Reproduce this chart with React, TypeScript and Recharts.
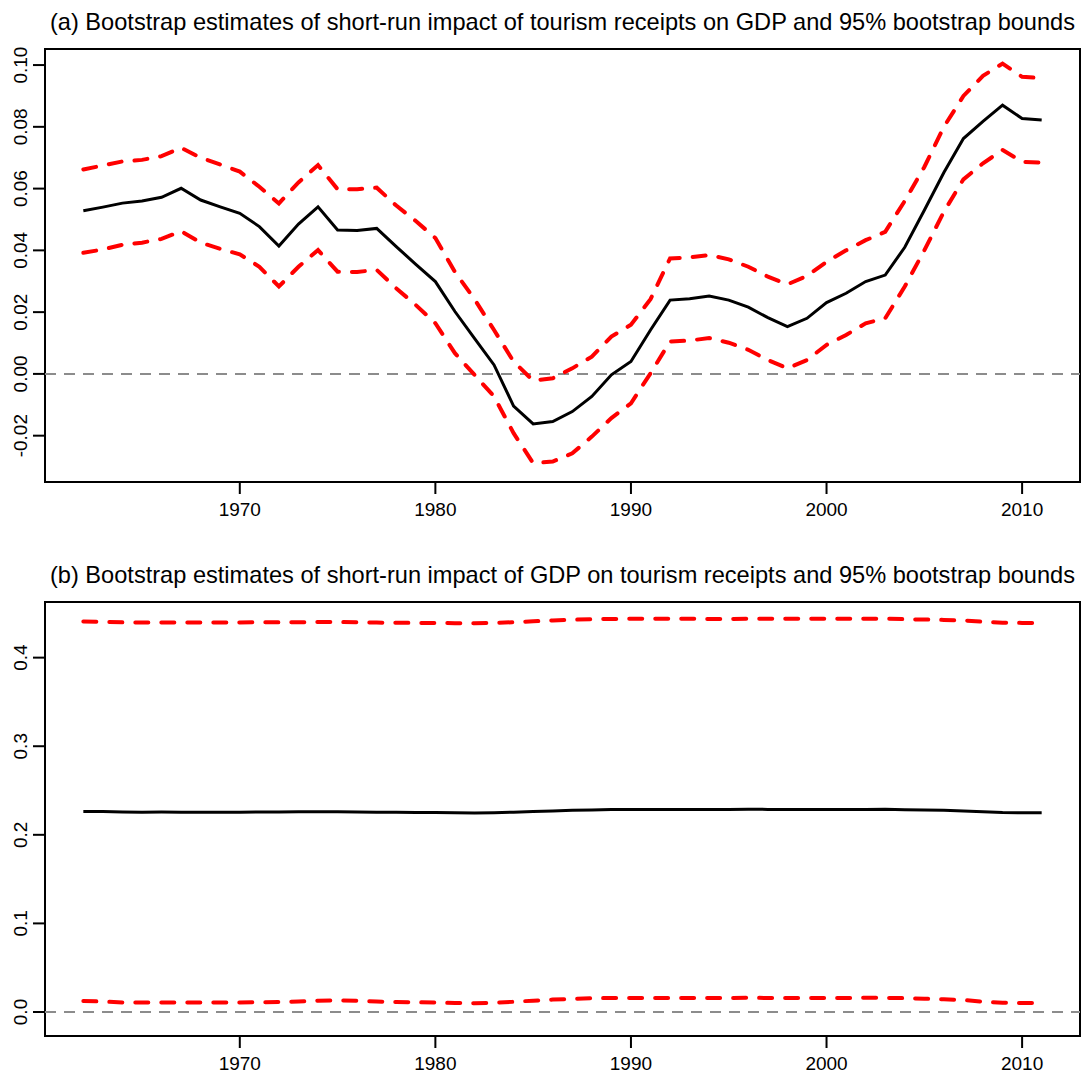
import { LineChart, Line, XAxis, YAxis, ReferenceLine, ReferenceArea } from "recharts";

const years = [
  1962, 1963, 1964, 1965, 1966, 1967, 1968, 1969, 1970, 1971,
  1972, 1973, 1974, 1975, 1976, 1977, 1978, 1979, 1980, 1981,
  1982, 1983, 1984, 1985, 1986, 1987, 1988, 1989, 1990, 1991,
  1992, 1993, 1994, 1995, 1996, 1997, 1998, 1999, 2000, 2001,
  2002, 2003, 2004, 2005, 2006, 2007, 2008, 2009, 2010, 2011,
];

// (a) tourism receipts -> GDP
const aEstimate = [
  0.0528, 0.054, 0.0553, 0.056, 0.0572, 0.0601, 0.0563, 0.0541, 0.052, 0.0477,
  0.0414, 0.0485, 0.0541, 0.0466, 0.0464, 0.0471, 0.0412, 0.0355, 0.0299, 0.0202,
  0.0115, 0.0029, -0.0104, -0.0162, -0.0154, -0.0122, -0.0073, -0.0003, 0.004, 0.0142,
  0.0239, 0.0243, 0.0252, 0.0239, 0.0216, 0.0182, 0.0153, 0.018, 0.0231, 0.0261,
  0.0299, 0.032, 0.041, 0.053, 0.0652, 0.0762, 0.0818, 0.087, 0.0827, 0.0822,
];
const aUpper = [
  0.0662, 0.0675, 0.0688, 0.0693, 0.0705, 0.0732, 0.07, 0.0678, 0.0655, 0.0606,
  0.0552, 0.062, 0.0676, 0.0598, 0.0598, 0.0603, 0.0545, 0.0495, 0.044, 0.033,
  0.0242, 0.0142, 0.004, -0.0022, -0.0014, 0.0018, 0.0056, 0.0121, 0.0159, 0.0242,
  0.0374, 0.0377, 0.0385, 0.0371, 0.0347, 0.0315, 0.029, 0.0317, 0.0363, 0.04,
  0.0433, 0.046, 0.056, 0.067, 0.08, 0.09, 0.0965, 0.1005, 0.0962, 0.0958,
];
const aLower = [
  0.0392, 0.0403, 0.0418, 0.0425, 0.0437, 0.0462, 0.0425, 0.0405, 0.0387, 0.0347,
  0.0283, 0.0347, 0.0401, 0.0331, 0.033, 0.0337, 0.0277, 0.0223, 0.0164, 0.0067,
  -0.0003, -0.0073, -0.0192, -0.0289, -0.0284, -0.0257, -0.0203, -0.0143, -0.0095, 0.0002,
  0.0105, 0.0108, 0.0116, 0.0101, 0.0078, 0.0045, 0.0018, 0.0045, 0.0094, 0.0126,
  0.0164, 0.018, 0.0283, 0.04, 0.0525, 0.063, 0.0682, 0.0725, 0.0687, 0.0684,
];

// (b) GDP -> tourism receipts
const bEstimate = [
  0.2262, 0.2262, 0.2258, 0.2255, 0.2257, 0.2256, 0.2255, 0.2255, 0.2256, 0.2258,
  0.2257, 0.2259, 0.2261, 0.2261, 0.2258, 0.2255, 0.2254, 0.2253, 0.2251, 0.2248,
  0.2247, 0.225, 0.2255, 0.2262, 0.227, 0.2276, 0.2281, 0.2286, 0.2287, 0.2287,
  0.2287, 0.2287, 0.2286, 0.2285, 0.2288, 0.2287, 0.2286, 0.2286, 0.2286, 0.2286,
  0.2287, 0.2288, 0.2284, 0.228, 0.2276, 0.227, 0.226, 0.2252, 0.2249, 0.2248,
];
const bUpper = [
  0.4408, 0.4405, 0.4398, 0.4396, 0.4397, 0.4397, 0.4396, 0.4397, 0.4398, 0.4399,
  0.4398, 0.44, 0.4402, 0.4402, 0.4399, 0.4396, 0.4393, 0.4392, 0.4391, 0.4389,
  0.4388, 0.4392, 0.44, 0.441, 0.442, 0.4428, 0.4433, 0.4437, 0.4438, 0.4438,
  0.4438, 0.4438, 0.4437, 0.4437, 0.4439, 0.4439, 0.4438, 0.4438, 0.4438, 0.4438,
  0.4439, 0.444, 0.4434, 0.443, 0.4426, 0.442, 0.4405, 0.4395, 0.4392, 0.439,
];
const bLower = [
  0.0124, 0.0118, 0.0108, 0.0106, 0.0107, 0.0107, 0.0107, 0.0107, 0.0108, 0.011,
  0.0112, 0.0118, 0.0128, 0.013, 0.0126, 0.0118, 0.0113, 0.011, 0.0106, 0.0101,
  0.01, 0.0104, 0.0115, 0.0128, 0.014, 0.0148, 0.0155, 0.0158, 0.0159, 0.0159,
  0.0159, 0.0159, 0.0158, 0.0158, 0.016, 0.0159, 0.0159, 0.0159, 0.0159, 0.0159,
  0.016, 0.016, 0.0156, 0.015, 0.0143, 0.0135, 0.0115, 0.0105, 0.0101, 0.01,
];

const xTicks = [1970, 1980, 1990, 2000, 2010];
const aTicks = [-0.02, 0, 0.02, 0.04, 0.06, 0.08, 0.1];
const bTicks = [0, 0.1, 0.2, 0.3, 0.4];

const titleA =
  "(a) Bootstrap estimates of short-run impact of tourism receipts on GDP and 95% bootstrap bounds";
const titleB =
  "(b) Bootstrap estimates of short-run impact of GDP on tourism receipts and 95% bootstrap bounds";

const FONT = '"Liberation Sans", Arial, Helvetica, sans-serif';
const X_DOMAIN: [number, number] = [1960.04, 2012.96];

const buildRows = (mid: number[], up: number[], lo: number[]) =>
  years.map((year, i) => ({ year, mid: mid[i], upper: up[i], lower: lo[i] }));

const rowsA = buildRows(aEstimate, aUpper, aLower);
const rowsB = buildRows(bEstimate, bUpper, bLower);

const RotatedTick = ({ x, y, payload, digits }: any) => (
  <text
    x={x}
    y={y}
    transform={`rotate(-90 ${x} ${y})`}
    textAnchor="middle"
    fontSize={19}
    fontFamily={FONT}
    fill="#000"
  >
    {Number(payload.value).toFixed(digits)}
  </text>
);

type PanelProps = {
  rows: any[];
  title: string;
  top: number;
  height: number;
  marginTop: number;
  xAxisHeight: number;
  yDomain: [number, number];
  yTicks: number[];
  digits: number;
  titleTop: number;
};

const Panel = ({ rows, title, top, height, marginTop, xAxisHeight, yDomain, yTicks, digits, titleTop }: PanelProps) => (
  <div style={{ position: "absolute", left: 0, top, width: 1081, height }}>
    <div
      style={{
        position: "absolute",
        left: 45,
        width: 1035,
        top: titleTop,
        textAlign: "center",
        fontFamily: FONT,
        fontSize: 23.6,
        lineHeight: "24px",
        color: "#000",
        whiteSpace: "nowrap",
      }}
    >
      {title}
    </div>
    <LineChart
      width={1081}
      height={height}
      data={rows}
      margin={{ top: marginTop, right: 1, bottom: 0, left: 0 }}
    >
      <XAxis
        dataKey="year"
        type="number"
        domain={X_DOMAIN}
        ticks={xTicks}
        allowDataOverflow
        height={xAxisHeight}
        axisLine={false}
        tickSize={12}
        tickMargin={9}
        tickLine={{ stroke: "#000", strokeWidth: 2 }}
        tick={{ fontSize: 19, fontFamily: FONT, fill: "#000" }}
        interval={0}
      />
      <YAxis
        type="number"
        domain={yDomain}
        ticks={yTicks}
        allowDataOverflow
        width={45}
        axisLine={false}
        tickSize={12}
        tickMargin={6}
        tickLine={{ stroke: "#000", strokeWidth: 2 }}
        tick={<RotatedTick digits={digits} />}
        interval={0}
      />
      <ReferenceLine y={0} stroke="#8c8c8c" strokeWidth={2} strokeDasharray="11 8" />
      <Line
        type="linear"
        dataKey="upper"
        stroke="#ff0000"
        strokeWidth={4}
        strokeDasharray="13 13"
        strokeLinecap="round"
        dot={false}
        activeDot={false}
        isAnimationActive={false}
      />
      <Line
        type="linear"
        dataKey="lower"
        stroke="#ff0000"
        strokeWidth={4}
        strokeDasharray="13 13"
        strokeLinecap="round"
        dot={false}
        activeDot={false}
        isAnimationActive={false}
      />
      <Line
        type="linear"
        dataKey="mid"
        stroke="#000"
        strokeWidth={3}
        dot={false}
        activeDot={false}
        isAnimationActive={false}
      />
      <ReferenceArea
        x1={X_DOMAIN[0]}
        x2={X_DOMAIN[1]}
        y1={yDomain[0]}
        y2={yDomain[1]}
        fill="none"
        fillOpacity={0}
        stroke="#000"
        strokeWidth={2}
        ifOverflow="visible"
      />
    </LineChart>
  </div>
);

export default function App() {
  return (
    <div style={{ position: "absolute", left: 0, top: 0, width: 1081, height: 1075, background: "#fff" }}>
      <Panel
        rows={rowsA}
        title={titleA}
        top={0}
        height={540}
        marginTop={49}
        xAxisHeight={58}
        yDomain={[-0.035, 0.1052]}
        yTicks={aTicks}
        digits={2}
        titleTop={10}
      />
      <Panel
        rows={rowsB}
        title={titleB}
        top={540}
        height={535}
        marginTop={62}
        xAxisHeight={39}
        yDomain={[-0.0271, 0.4628]}
        yTicks={bTicks}
        digits={1}
        titleTop={23}
      />
    </div>
  );
}
